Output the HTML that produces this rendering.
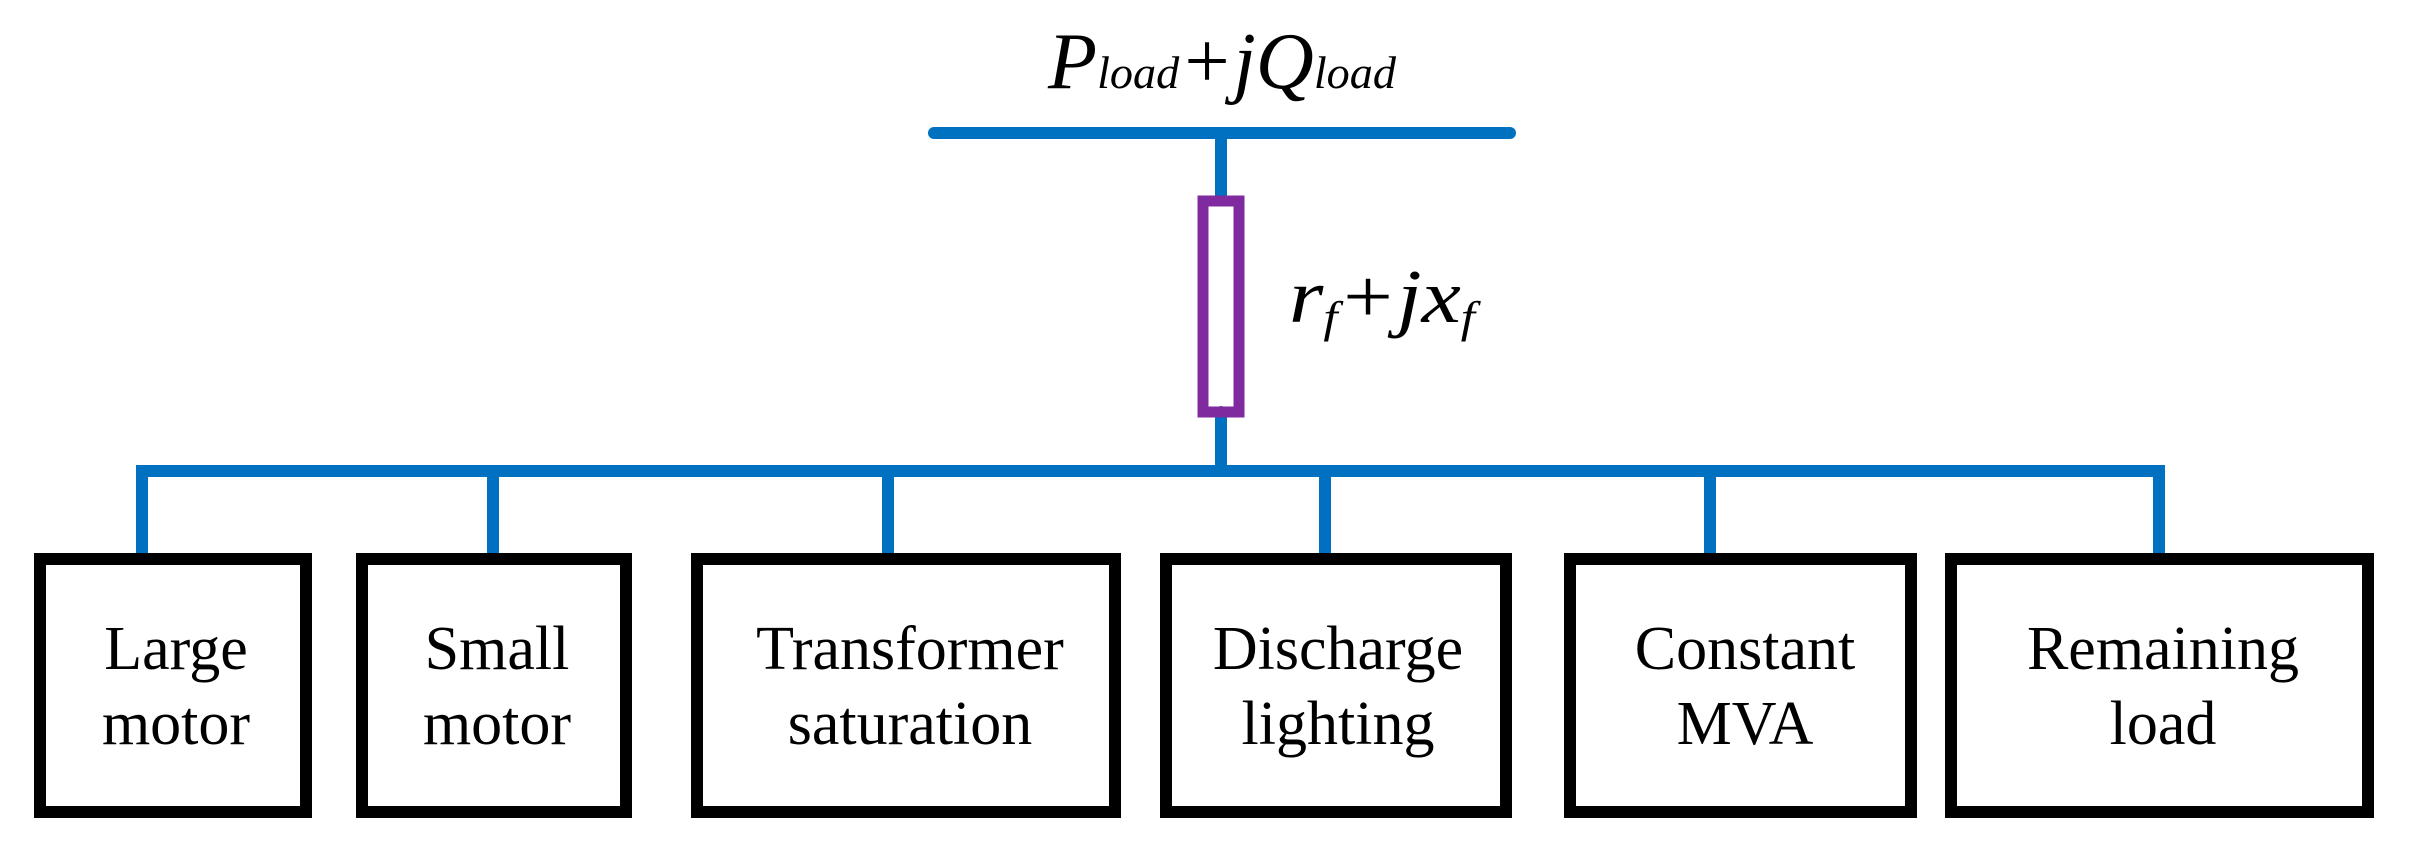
<!DOCTYPE html>
<html><head><style>html,body{margin:0;padding:0;background:#fff}svg{display:block}</style></head>
<body>
<svg width="2409" height="844" viewBox="0 0 2409 844" xmlns="http://www.w3.org/2000/svg">
<g stroke="#0070C0" stroke-width="12" stroke-linecap="round" fill="none">
<line x1="934" y1="133" x2="1510" y2="133"/>
<line x1="1221" y1="133" x2="1221" y2="200"/>
<line x1="1221" y1="412" x2="1221" y2="471"/>
<polyline points="142,556 142,471 2159,471 2159,556"/>
<line x1="493" y1="471" x2="493" y2="556"/>
<line x1="888" y1="471" x2="888" y2="556"/>
<line x1="1325" y1="471" x2="1325" y2="556"/>
<line x1="1710" y1="471" x2="1710" y2="556"/>
</g>
<rect x="1203" y="201" width="36" height="211" fill="none" stroke="#7F2A9F" stroke-width="11"/>
<g fill="none" stroke="#000" stroke-width="12">
<rect x="40" y="559" width="266" height="253"/>
<rect x="362" y="559" width="264" height="253"/>
<rect x="697" y="559" width="418" height="253"/>
<rect x="1166" y="559" width="340" height="253"/>
<rect x="1570" y="559" width="341" height="253"/>
<rect x="1951" y="559" width="417" height="253"/>
</g>
<g font-family="Liberation Serif, serif" font-style="italic" fill="#000">
<text x="1048" y="88" font-size="80" textLength="348" lengthAdjust="spacingAndGlyphs">P<tspan font-size="46">load</tspan>+jQ<tspan font-size="46">load</tspan></text>
<text x="1289" y="322" font-size="76" textLength="186" lengthAdjust="spacingAndGlyphs">r<tspan font-size="44" dy="10">f</tspan><tspan dy="-10">+jx</tspan><tspan font-size="44" dy="10">f</tspan></text>
</g>
<g font-family="Liberation Serif, serif" font-size="62" fill="#000" text-anchor="middle">
<text x="176" y="669">Large</text><text x="176" y="744">motor</text>
<text x="497" y="669">Small</text><text x="497" y="744">motor</text>
<text x="910" y="669">Transformer</text><text x="910" y="744">saturation</text>
<text x="1338" y="669">Discharge</text><text x="1338" y="744">lighting</text>
<text x="1745" y="669">Constant</text><text x="1745" y="744">MVA</text>
<text x="2163" y="669">Remaining</text><text x="2163" y="744">load</text>
</g>
</svg>
</body></html>
